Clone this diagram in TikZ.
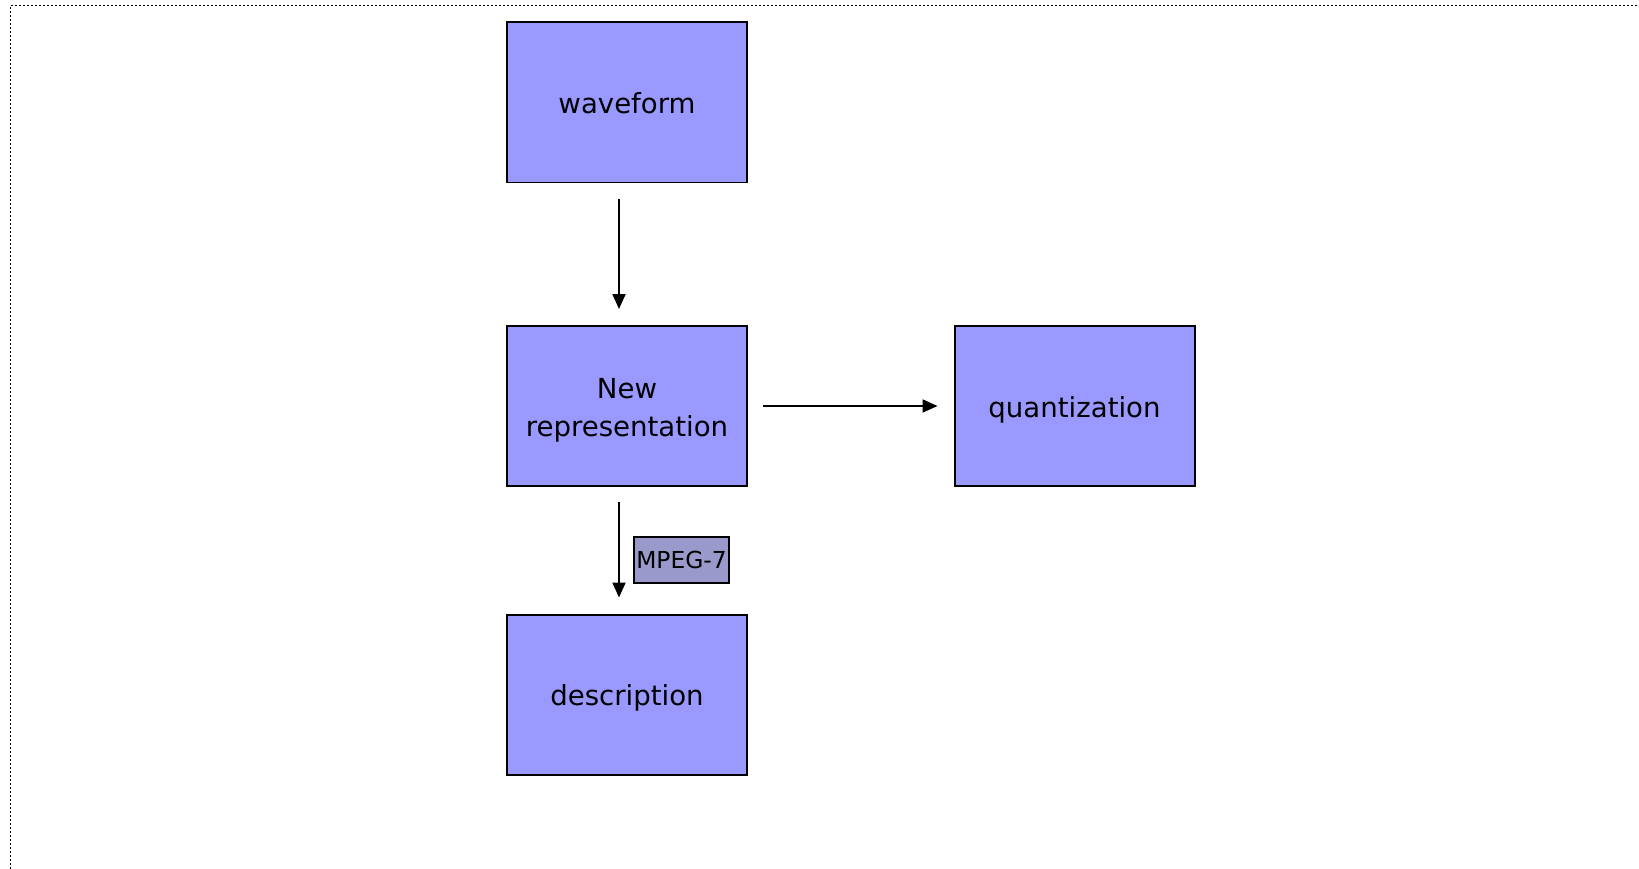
\documentclass[tikz,border=0pt]{standalone}
\usepackage{fontspec}
\setmainfont{DejaVu Sans}
\usepackage{tikz}
\usetikzlibrary{arrows.meta, positioning, calc}

\definecolor{boxblue}{HTML}{9999FF}
\definecolor{tagblue}{HTML}{9999CC}

\begin{document}
\begin{tikzpicture}[>={Triangle[length=0.3cm,width=0.26cm]},
    bloque/.style={draw, line width=0.04cm, fill=boxblue, align=center, minimum width=4.8cm, minimum height=3.2cm, text height=17pt, text depth=4pt, font=\fontsize{15.7}{21.4}\selectfont},
    flecha/.style={->, line width=0.04cm, shorten <=0.3cm, shorten >=0.32cm},
    etiqueta/.style={draw, line width=0.04cm, fill=tagblue, inner sep=0.02cm, minimum width=1.9cm, minimum height=0.92cm, font=\fontsize{13.3}{15}\selectfont}]
    \useasboundingbox (0,0) rectangle (32.78,-17.38);

    % Marco punteado
    \draw[line width=0.035cm, dash pattern=on 0.035cm off 0.045cm] (0.21,-17.38) -- (0.21,-0.11) -- (32.78,-0.11);

    % Nodos principales
    \node (wave) [bloque] at (12.54,-2.05) {waveform};
    \node (newrep) [bloque, below=2.83cm of wave, text height=38.4pt] {New\\representation};
    \node (quant) [bloque, right=4.11cm of newrep] {quantization};
    \node (desc) [bloque, below=2.53cm of newrep] {description};

    % Flechas
    \draw[flecha] ([xshift=-0.16cm]wave.south) -- ([xshift=-0.16cm]newrep.north);
    \draw[flecha] (newrep) -- (quant);
    \draw[flecha] ([xshift=-0.16cm]newrep.south) -- node[etiqueta, right=0.28cm, pos=0.58] (mpeg) {MPEG-7} ([xshift=-0.16cm]desc.north);
\end{tikzpicture}
\end{document}
